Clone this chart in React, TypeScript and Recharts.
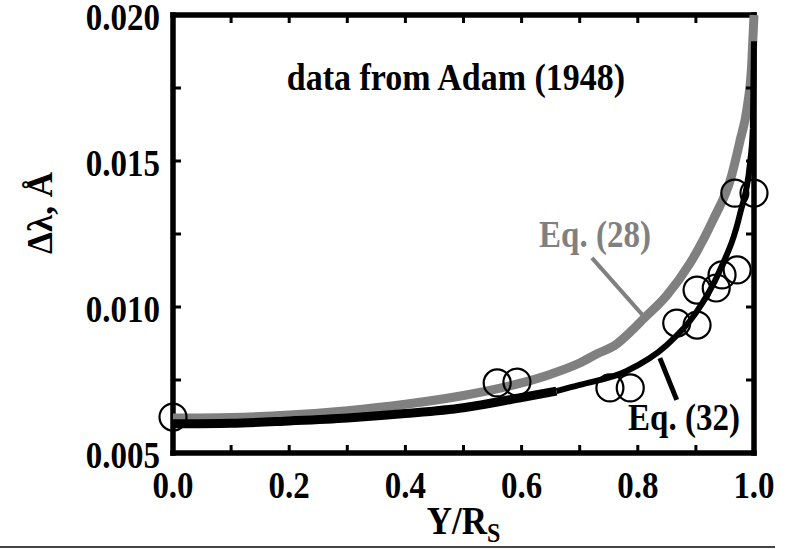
import React from 'react';
import {
  ComposedChart,
  XAxis,
  YAxis,
  Line,
  Scatter,
  ReferenceLine,
  ReferenceDot,
  Label,
} from 'recharts';

const FONT = '"Liberation Serif", "Times New Roman", Times, serif';
const SY = 1.12;

// ---- data ----
const xTickValues = [0, 0.2, 0.4, 0.6, 0.8, 1.0];
const xMinorTicks = [0.1, 0.2, 0.3, 0.4, 0.5, 0.6, 0.7, 0.8, 0.9];
const yTickValues = [0.005, 0.01, 0.015, 0.02];
const yMinorTicks = [0.0075, 0.01, 0.0125, 0.015, 0.0175];
const xRange = [0, 1];
const yRange = [0.005, 0.02];

// Eq. (28) – grey curve
const eq28X = [0, 0.1, 0.2, 0.3, 0.4, 0.5, 0.6, 0.65, 0.7, 0.73, 0.76, 0.79, 0.81, 0.85, 0.89, 0.93, 0.96, 0.976, 0.988, 0.996, 1.0];
const eq28Y = [0.0062, 0.00622, 0.0063, 0.00645, 0.00667, 0.00697, 0.0074, 0.0077, 0.00808, 0.0084, 0.00868, 0.0092, 0.0096, 0.0104, 0.0115, 0.013, 0.0144, 0.0157, 0.0168, 0.0183, 0.02];

// Eq. (32) – black curve (drawn in two pieces of different weight)
const eq32LeftX = [0, 0.1, 0.2, 0.3, 0.4, 0.5, 0.6, 0.66];
const eq32LeftY = [0.006, 0.00602, 0.0061, 0.0062, 0.00635, 0.00655, 0.0069, 0.00712];
const eq32RightX = [0.66, 0.7, 0.78, 0.85, 0.9, 0.94, 0.976, 0.993, 0.998, 1.0];
const eq32RightY = [0.00712, 0.00733, 0.0078, 0.0087, 0.0098, 0.0112, 0.0132, 0.0149, 0.0161, 0.0191];

// Adam (1948) measurements
const adamX = [0.0, 0.558, 0.592, 0.752, 0.787, 0.867, 0.902, 0.902, 0.935, 0.945, 0.971, 0.967, 1.0];
const adamY = [0.00623, 0.0074, 0.00743, 0.00723, 0.00723, 0.00945, 0.00938, 0.01058, 0.01065, 0.0111, 0.01127, 0.0139, 0.0139];

const zip = (xs: number[], ys: number[]) => xs.map((x, i) => ({ x, v: ys[i] }));
const eq28Data = zip(eq28X, eq28Y);
const eq32LeftData = zip(eq32LeftX, eq32LeftY);
const eq32RightData = zip(eq32RightX, eq32RightY);
const adamData = zip(adamX, adamY);

// ---- renderers ----
const SText = (props: any) => {
  const { x, y, sy = SY, children, ...rest } = props;
  return (
    <text
      transform={`translate(${x},${y}) scale(1,${sy})`}
      x={0}
      y={0}
      fontFamily={FONT}
      fontWeight="bold"
      {...rest}
    >
      {children}
    </text>
  );
};

const XTick = (props: any) => {
  const { x, y, payload } = props;
  return (
    <SText x={x} y={y + 45} textAnchor="middle" fontSize={33} fill="#000">
      {Number(payload.value).toFixed(1)}
    </SText>
  );
};

const YTick = (props: any) => {
  const { x, y, payload } = props;
  return (
    <SText x={x} y={y + 15} textAnchor="end" fontSize={33} fill="#000">
      {Number(payload.value).toFixed(3)}
    </SText>
  );
};

const TickShape = (side: string) => (props: any) => {
  const { cx, cy } = props;
  const L = 8;
  let x2 = cx;
  let y2 = cy;
  if (side === 'bottom') y2 = cy - L;
  if (side === 'top') y2 = cy + L;
  if (side === 'left') x2 = cx + L;
  if (side === 'right') x2 = cx - L;
  return <line x1={cx} y1={cy} x2={x2} y2={y2} stroke="#000" strokeWidth={3} />;
};
const BottomTick = TickShape('bottom');
const TopTick = TickShape('top');
const LeftTick = TickShape('left');
const RightTick = TickShape('right');

const XLabel = (props: any) => {
  const vb = props.viewBox || {};
  const cx = vb.x + vb.width / 2;
  return (
    <SText x={cx} y={534} textAnchor="middle" fontSize={35} fill="#000">
      Y/R
      <tspan fontSize={24} dy={7}>S</tspan>
    </SText>
  );
};

const YLabel = () => {
  const cx = 40;
  const cy = 213;
  return (
    <text
      x={cx}
      y={cy}
      transform={`rotate(-90, ${cx}, ${cy})`}
      textAnchor="middle"
      dominantBaseline="central"
      fontFamily={FONT}
      fontWeight="bold"
      fontSize={35}
      fill="#000"
    >
      Δλ, Å
    </text>
  );
};

const makeNote = (text: string, size: number, color: string) => (props: any) => {
  const vb = props.viewBox || {};
  const cx = vb.x + (vb.width || 0) / 2;
  const cy = vb.y + (vb.height || 0) / 2;
  return (
    <SText x={cx} y={cy} textAnchor="middle" fontSize={size} fill={color}>
      {text}
    </SText>
  );
};

const TitleNote = makeNote('data from Adam (1948)', 34, '#000');
const Eq28Note = makeNote('Eq. (28)', 33, '#808080');
const Eq32Note = makeNote('Eq. (32)', 33, '#000');

const CircleShape = (props: any) => {
  const { cx, cy } = props;
  return <circle cx={cx} cy={cy} r={13.5} fill="none" stroke="#000" strokeWidth={2.2} />;
};

const EmptyDot = () => <g />;

export default function App() {
  return (
    <div style={{ position: 'absolute', left: 0, top: 0, width: 791, height: 549, background: '#fff' }}>
      <ComposedChart width={791} height={549} margin={{ top: 15, right: 37, bottom: 0, left: 0 }}>
        <XAxis
          xAxisId="b"
          type="number"
          dataKey="x"
          domain={xRange}
          ticks={xTickValues}
          orientation="bottom"
          height={96}
          axisLine={false}
          tickLine={false}
          tickSize={0}
          tickMargin={0}
          tick={<XTick />}
          interval={0}
        >
          <Label content={<XLabel />} />
        </XAxis>
        <YAxis
          yAxisId="l"
          type="number"
          domain={yRange}
          ticks={yTickValues}
          orientation="left"
          width={173}
          axisLine={false}
          tickLine={false}
          tickSize={0}
          tickMargin={13}
          tick={<YTick />}
          interval={0}
        >
          <Label content={<YLabel />} />
        </YAxis>

        {/* inward minor ticks on all four sides */}
        {xMinorTicks.map((t) => (
          <ReferenceDot key={`bt${t}`} xAxisId="b" yAxisId="l" x={t} y={yRange[0]} r={0} shape={<BottomTick />} ifOverflow="visible" />
        ))}
        {xMinorTicks.map((t) => (
          <ReferenceDot key={`tt${t}`} xAxisId="b" yAxisId="l" x={t} y={yRange[1]} r={0} shape={<TopTick />} ifOverflow="visible" />
        ))}
        {yMinorTicks.map((t) => (
          <ReferenceDot key={`lt${t}`} xAxisId="b" yAxisId="l" x={xRange[0]} y={t} r={0} shape={<LeftTick />} ifOverflow="visible" />
        ))}
        {yMinorTicks.map((t) => (
          <ReferenceDot key={`rt${t}`} xAxisId="b" yAxisId="l" x={xRange[1]} y={t} r={0} shape={<RightTick />} ifOverflow="visible" />
        ))}

        {/* frame */}
        <ReferenceLine xAxisId="b" yAxisId="l" x={xRange[0]} stroke="#000" strokeWidth={5.5} strokeLinecap="square" ifOverflow="visible" />
        <ReferenceLine xAxisId="b" yAxisId="l" x={xRange[1]} stroke="#000" strokeWidth={5.5} strokeLinecap="square" ifOverflow="visible" />
        <ReferenceLine xAxisId="b" yAxisId="l" y={yRange[0]} stroke="#000" strokeWidth={5.5} strokeLinecap="square" ifOverflow="visible" />
        <ReferenceLine xAxisId="b" yAxisId="l" y={yRange[1]} stroke="#000" strokeWidth={5.5} strokeLinecap="square" ifOverflow="visible" />

        <Line
          xAxisId="b"
          yAxisId="l"
          data={eq28Data}
          dataKey="v"
          type="monotone"
          stroke="#808080"
          strokeWidth={9}
          dot={false}
          activeDot={false}
          isAnimationActive={false}
        />
        <Line
          xAxisId="b"
          yAxisId="l"
          data={eq32LeftData}
          dataKey="v"
          type="monotone"
          stroke="#000"
          strokeWidth={9}
          dot={false}
          activeDot={false}
          isAnimationActive={false}
        />
        <Line
          xAxisId="b"
          yAxisId="l"
          data={eq32RightData}
          dataKey="v"
          type="monotone"
          stroke="#000"
          strokeWidth={6}
          dot={false}
          activeDot={false}
          isAnimationActive={false}
        />
        <Scatter
          xAxisId="b"
          yAxisId="l"
          data={adamData}
          dataKey="v"
          shape={<CircleShape />}
          isAnimationActive={false}
        />

        <ReferenceLine
          xAxisId="b"
          yAxisId="l"
          segment={[{ x: 0.721, y: 0.01168 }, { x: 0.816, y: 0.00955 }]}
          stroke="#808080"
          strokeWidth={4}
          ifOverflow="visible"
        />
        <ReferenceLine
          xAxisId="b"
          yAxisId="l"
          segment={[{ x: 0.838, y: 0.00825 }, { x: 0.867, y: 0.00682 }]}
          stroke="#000"
          strokeWidth={5}
          ifOverflow="visible"
        />

        <ReferenceDot xAxisId="b" yAxisId="l" x={0.487} y={0.01743} r={0} shape={<EmptyDot />} ifOverflow="visible">
          <Label content={<TitleNote />} />
        </ReferenceDot>
        <ReferenceDot xAxisId="b" yAxisId="l" x={0.7263} y={0.01205} r={0} shape={<EmptyDot />} ifOverflow="visible">
          <Label content={<Eq28Note />} />
        </ReferenceDot>
        <ReferenceDot xAxisId="b" yAxisId="l" x={0.8795} y={0.00579} r={0} shape={<EmptyDot />} ifOverflow="visible">
          <Label content={<Eq32Note />} />
        </ReferenceDot>
      </ComposedChart>
      <div style={{ position: 'absolute', left: 0, top: 546, width: 775, height: 2, background: '#444' }} />
    </div>
  );
}
